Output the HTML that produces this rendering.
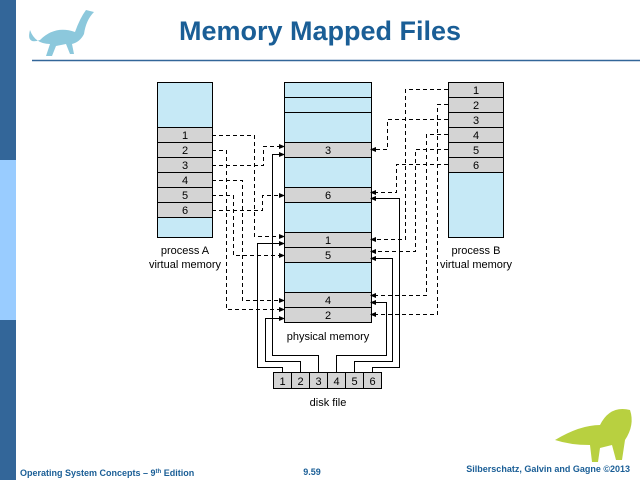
<!DOCTYPE html>
<html><head><style>
body{margin:0;width:640px;height:480px;overflow:hidden;background:#fff;font-family:"Liberation Sans",sans-serif;}
</style></head><body>
<svg width="640" height="480" xmlns="http://www.w3.org/2000/svg" font-family="Liberation Sans, sans-serif">
<defs>
<marker id="a" markerWidth="6" markerHeight="6" refX="5" refY="3" orient="auto" markerUnits="userSpaceOnUse"><path d="M0,0.5 L6,3 L0,5.5z" fill="#000"/></marker>
</defs>
<rect x="0" y="0" width="16" height="160" fill="#336699"/>
<rect x="0" y="160" width="16" height="160" fill="#99ccff"/>
<rect x="0" y="320" width="16" height="160" fill="#336699"/>
<line x1="32" y1="60.5" x2="640" y2="60.5" stroke="#336699" stroke-width="1.5"/>
<!-- dino placeholder -->
<path d="M30,30 Q26,45 40,40 Q55,25 75,32 Q80,18 86,10 L94,12 Q86,20 84,34 Q80,42 72,44 L74,54 L70,54 L66,44 L56,46 L52,56 L46,56 L50,44 Q35,44 30,30z" fill="#8cc8dc"/>
<text x="320" y="40" text-anchor="middle" font-size="27" font-weight="bold" fill="#1a5e96">Memory Mapped Files</text>
<g stroke="#000" stroke-width="1">
<!-- process A -->
<rect x="157.5" y="82.5" width="55" height="155" fill="#c6e9f6"/>
<rect x="157.5" y="127.5" width="55" height="90" fill="#d4d4d4"/>
<path d="M157.5 142.5h55M157.5 157.5h55M157.5 172.5h55M157.5 187.5h55M157.5 202.5h55"/>
<!-- physical -->
<rect x="284.5" y="82.5" width="87" height="240" fill="#c6e9f6"/>
<path d="M284.5 97.5h87M284.5 112.5h87"/>
<rect x="284.5" y="142.5" width="87" height="15" fill="#d4d4d4"/>
<rect x="284.5" y="187.5" width="87" height="15" fill="#d4d4d4"/>
<rect x="284.5" y="232.5" width="87" height="30" fill="#d4d4d4"/>
<path d="M284.5 247.5h87"/>
<rect x="284.5" y="292.5" width="87" height="30" fill="#d4d4d4"/>
<path d="M284.5 307.5h87"/>
<!-- process B -->
<rect x="448.5" y="82.5" width="55" height="155" fill="#c6e9f6"/>
<rect x="448.5" y="82.5" width="55" height="90" fill="#d4d4d4"/>
<path d="M448.5 97.5h55M448.5 112.5h55M448.5 127.5h55M448.5 142.5h55M448.5 157.5h55"/>
<!-- disk -->
<rect x="273.5" y="372.5" width="108" height="16" fill="#d4d4d4"/>
<path d="M291.5 372.5v16M309.5 372.5v16M327.5 372.5v16M345.5 372.5v16M363.5 372.5v16"/>
</g>
<g font-size="11" text-anchor="middle" fill="#000">
<text x="185" y="139">1</text><text x="185" y="154">2</text><text x="185" y="169">3</text><text x="185" y="184">4</text><text x="185" y="199">5</text><text x="185" y="214">6</text>
<text x="476" y="94">1</text><text x="476" y="109">2</text><text x="476" y="124">3</text><text x="476" y="139">4</text><text x="476" y="154">5</text><text x="476" y="169">6</text>
<text x="328" y="154">3</text><text x="328" y="199">6</text><text x="328" y="244">1</text><text x="328" y="259">5</text><text x="328" y="304">4</text><text x="328" y="319">2</text>
<text x="282.5" y="385">1</text><text x="300.5" y="385">2</text><text x="318.5" y="385">3</text><text x="336.5" y="385">4</text><text x="354.5" y="385">5</text><text x="372.5" y="385">6</text>
<text x="185" y="254">process A</text><text x="185" y="268">virtual memory</text>
<text x="476" y="254">process B</text><text x="476" y="268">virtual memory</text>
<text x="328" y="340">physical memory</text>
<text x="328" y="406">disk file</text>
</g>
<g fill="none" stroke="#000" stroke-width="1" stroke-dasharray="4,3" marker-end="url(#a)">
<path d="M212 135.5H254.5V236.5H284"/>
<path d="M212 150.5H226.5V309.5H284"/>
<path d="M212 165.5H263.5V146.5H284"/>
<path d="M212 180.5H242.5V300.5H284"/>
<path d="M212 195.5H233.5V255.5H284"/>
<path d="M212 210.5H262.5V195.5H284"/>
<path d="M448 89.5H405.5V239.5H371"/>
<path d="M448 104.5H437.5V314.5H371"/>
<path d="M448 119.5H387.5V149.5H371"/>
<path d="M448 134.5H426.5V295.5H371"/>
<path d="M448 149.5H415.5V251.5H371"/>
<path d="M448 164.5H396.5V192.5H371"/>
</g>
<g fill="none" stroke="#000" stroke-width="1" marker-end="url(#a)">
<path d="M282.5 372V367.5H257.5V243.5H284"/>
<path d="M300.5 372V361.5H265.5V318.5H284"/>
<path d="M318.5 372V355.5H272.5V154.5H284"/>
<path d="M336.5 372V355.5H386.5V302.5H371"/>
<path d="M354.5 372V361.5H392.5V258.5H371"/>
<path d="M372.5 372V367.5H399.5V198.5H371"/>
</g>
<path d="M555,440 Q580,425 600,425 Q610,405 630,410 Q635,425 625,440 L622,460 L616,460 L612,445 L600,448 L598,462 L592,462 L590,445 Q570,445 555,440z" fill="#b8d040"/>
<g font-size="9" font-weight="bold" fill="#1a5e96">
<text x="20" y="476">Operating System Concepts – 9<tspan font-size="6" dy="-3">th</tspan><tspan dy="3"> Edition</tspan></text>
<text x="312" y="475" text-anchor="middle">9.59</text>
<text x="630" y="472" text-anchor="end">Silberschatz, Galvin and Gagne ©2013</text>
</g>
</svg>
</body></html>
